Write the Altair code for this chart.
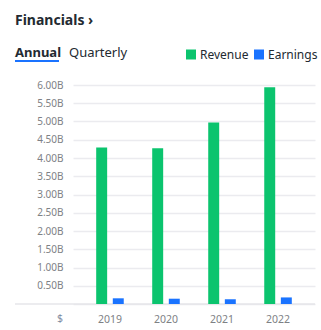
import altair as alt
import pandas as pd

years = ["2019", "2020", "2021", "2022"]
series = ["Revenue", "Earnings"]
revenue = [4.29, 4.27, 4.97, 5.94]      # billions
earnings = [0.156, 0.145, 0.13, 0.18]   # billions
colors = ["#0bc46e", "#1a73ff"]
y_ticks = [0, 0.5, 1.0, 1.5, 2.0, 2.5, 3.0, 3.5, 4.0, 4.5, 5.0, 5.5, 6.0]

rows = []
for i, yr in enumerate(years):
    rows.append({"year": yr, "series": "Revenue", "value": revenue[i]})
    rows.append({"year": yr, "series": "Earnings", "value": earnings[i]})
df = pd.DataFrame(rows)

LABEL_COLOR = "#7e8185"
FONT = "Noto Sans"

bars = alt.Chart(df).mark_bar().encode(
    x=alt.X("year:N", sort=years,
            scale=alt.Scale(paddingInner=0, paddingOuter=0.16),
            axis=alt.Axis(title=None, labelAngle=0, domain=False, ticks=False,
                          grid=False, labelPadding=10, labelFontSize=10.5,
                          labelColor=LABEL_COLOR, labelFont=FONT)),
    xOffset=alt.XOffset("series:N", sort=series,
                        scale=alt.Scale(paddingInner=0.34, paddingOuter=0.857)),
    y=alt.Y("value:Q", scale=alt.Scale(domain=[0, 6], nice=False),
            axis=alt.Axis(title=None, values=y_ticks, domain=False, ticks=False,
                          labelPadding=10, labelFontSize=10, labelFont=FONT,
                          labelColor=LABEL_COLOR, labelOverlap=False,
                          labelExpr="datum.value == 0 ? '' : format(datum.value, '.2f') + 'B'",
                          grid=True, gridColor="#ebebef", gridWidth=1.5)),
    color=alt.Color("series:N", sort=series,
                    scale=alt.Scale(domain=series, range=colors),
                    legend=alt.Legend(title=None, orient="none", legendX=112, legendY=-36.5,
                                      direction="horizontal", symbolType="square",
                                      symbolSize=100, symbolStrokeWidth=0,
                                      labelFontSize=12, labelFont=FONT,
                                      labelColor="#232a31", columnPadding=4,
                                      labelOffset=3, padding=0)),
)

baseline = alt.Chart(alt.Data(values=[{"v": 0}])).mark_rule(
    color="#e6e6ea", strokeWidth=1.5
).encode(x=alt.value(-58), x2=alt.value(242), y=alt.value(219))

title = alt.Chart(alt.Data(values=[{"t": "Financials ›"}])).mark_text(
    align="left", baseline="alphabetic", font=FONT, fontSize=14,
    fontWeight="bold", color="#232a31"
).encode(x=alt.value(-58), y=alt.value(-60), text="t:N")

tab1 = alt.Chart(alt.Data(values=[{"t": "Annual"}])).mark_text(
    align="left", baseline="alphabetic", font=FONT, fontSize=13,
    fontWeight="bold", color="#232a31"
).encode(x=alt.value(-58), y=alt.value(-28.5), text="t:N")

tab2 = alt.Chart(alt.Data(values=[{"t": "Quarterly"}])).mark_text(
    align="left", baseline="alphabetic", font=FONT, fontSize=13,
    color="#232a31"
).encode(x=alt.value(-4), y=alt.value(-28.5), text="t:N")

underline = alt.Chart(alt.Data(values=[{"u": 1}])).mark_rule(
    color="#1a73ff", strokeWidth=2
).encode(x=alt.value(-58), x2=alt.value(-14), y=alt.value(-24))

dollar = alt.Chart(alt.Data(values=[{"t": "$"}])).mark_text(
    align="center", baseline="alphabetic", font=FONT, fontSize=10.5,
    color="#7f8ea3"
).encode(x=alt.value(-13), y=alt.value(237), text="t:N")

chart = alt.layer(baseline, bars, title, tab1, tab2, underline, dollar).properties(
    width=242, height=219,
    padding={"left": 73, "top": 85, "right": 6, "bottom": 26},
    autosize=alt.AutoSizeParams(type="none"),
    background="white",
).configure_view(stroke=None)

chart.save("out.html", embed_options={"renderer": "svg", "actions": False})
